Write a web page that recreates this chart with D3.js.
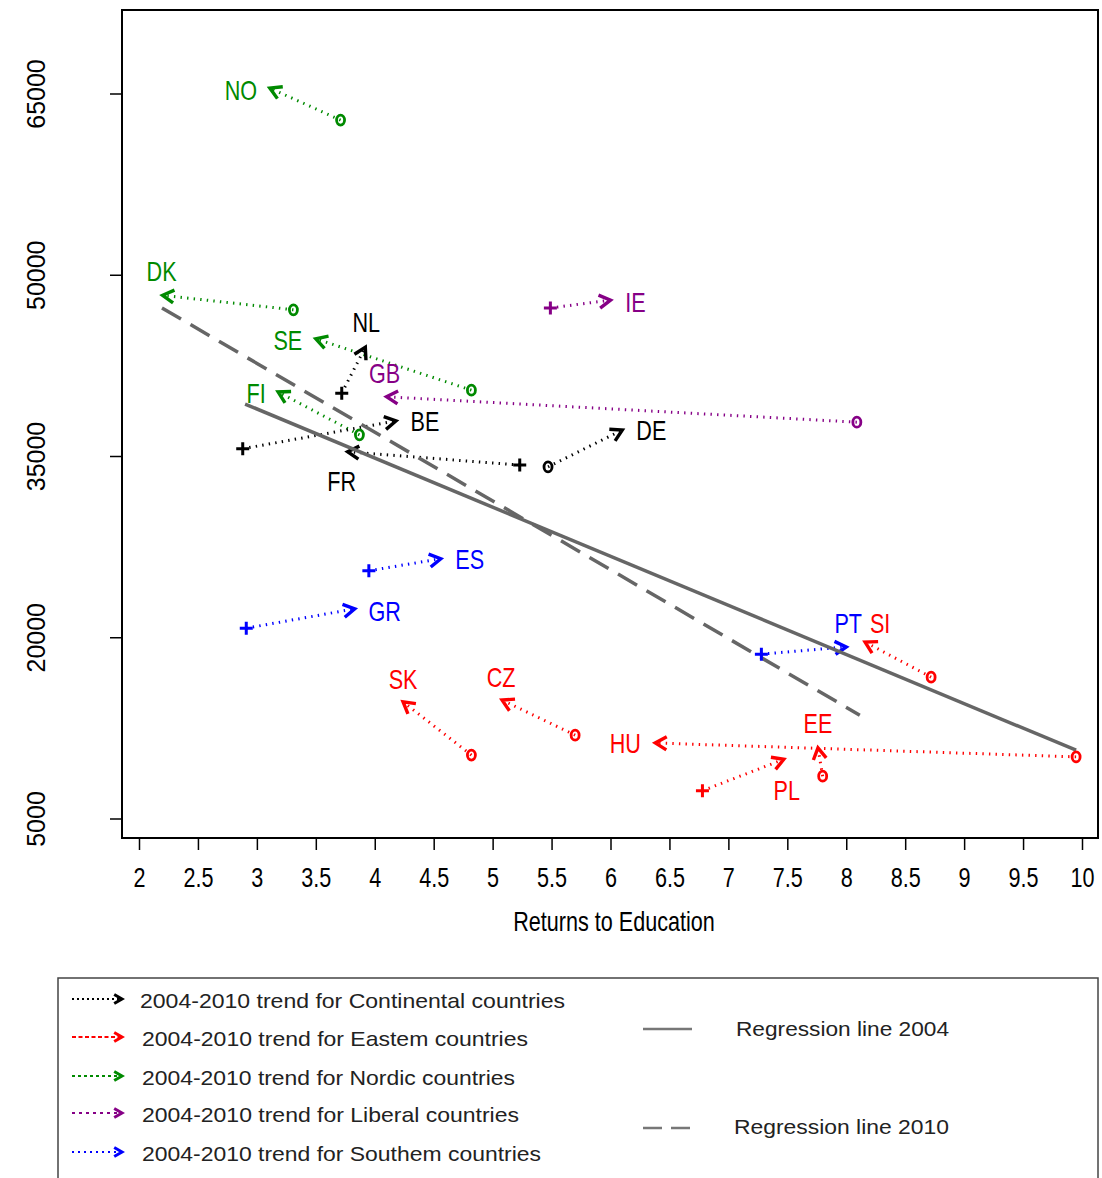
<!DOCTYPE html>
<html>

<head>
    <meta charset="utf-8" />
    <title>Returns to Education 2004-2010</title>
    <script type="text/javascript" src="https://cdn.jsdelivr.net/npm/d3@7/dist/d3.min.js"></script>
    <style>
        body { margin: 0; background: #fff; }
        svg text { font-family: "Liberation Sans", Arial, sans-serif; }
    </style>
</head>

<body>
    <script type="text/javascript">
        // country codes and the regime group each belongs to
        const countries = ["NO", "DK", "SE", "FI", "NL", "GB", "BE", "FR", "DE", "IE",
            "ES", "GR", "SK", "CZ", "PT", "SI", "HU", "EE", "PL"];
        const groups = ["Nordic", "Nordic", "Nordic", "Nordic", "Continental", "Liberal",
            "Continental", "Continental", "Continental", "Liberal", "Southern", "Southern",
            "Eastern", "Eastern", "Southern", "Eastern", "Eastern", "Eastern", "Eastern"];

        // returns to education (x) and y value, 2004 start -> 2010 end
        const returns2004 = [3.71, 3.31, 4.82, 3.87, 3.72, 8.09, 2.88, 5.23, 5.47, 5.49,
            3.95, 2.91, 4.82, 5.70, 7.28, 8.72, 9.95, 7.80, 6.78];
        const returns2010 = [3.11, 2.20, 3.50, 3.18, 3.92, 4.10, 4.18, 3.77, 6.10, 6.00,
            4.56, 3.83, 4.24, 5.08, 8.00, 8.16, 6.38, 7.76, 7.47];
        const value2004 = [62800, 47100, 40450, 36750, 40200, 37800, 35600, 34250, 34100, 47250,
            25500, 20750, 10250, 11900, 18600, 16700, 10100, 8500, 7300];
        const value2010 = [65450, 48300, 44700, 40300, 44000, 39900, 37900, 35350, 37150, 47900,
            26500, 22350, 14650, 14800, 19200, 19600, 11250, 10850, 9900];
        // symbol drawn at the 2004 point
        const startSymbol = ["o", "o", "o", "o", "+", "o", "+", "+", "o", "+",
            "+", "+", "o", "o", "+", "o", "o", "o", "+"];

        // regression line end points
        const reg2004X = [2.90, 9.95], reg2004Y = [39300, 10650];
        const reg2010X = [2.195, 8.115], reg2010Y = [47250, 13550];

        const xTicks = [2, 2.5, 3, 3.5, 4, 4.5, 5, 5.5, 6, 6.5, 7, 7.5, 8, 8.5, 9, 9.5, 10];
        const yTicks = [5000, 20000, 35000, 50000, 65000];

        const legendGroups = ["Continental", "Eastern", "Nordic", "Liberal", "Southern"];
        const legendLabels = legendGroups.map(g => `2004-2010 trend for ${g === "Eastern" ? "Eastem" : g === "Southern" ? "Southem" : g} countries`);
        const regLabels = ["Regression line 2004", "Regression line 2010"];

        const colors = {
            Continental: "#000000",
            Eastern: "#ff0000",
            Nordic: "#008a00",
            Liberal: "#860086",
            Southern: "#0000ff"
        };

        // label offset (px) from the arrow tip
        const labelOffset = {
            NO: [-29, 2], DK: [-1, -24], SE: [-28, 1], FI: [-22, 1], NL: [1, -25],
            GB: [-2, -24], BE: [29, 0], FR: [-6, 29], DE: [29, 0], IE: [25, 2],
            ES: [29, 1], GR: [30, 2], SK: [0, -23], CZ: [-1, -23], PT: [2, -24],
            SI: [15, -19], HU: [-30, 0], EE: [0, -25], PL: [3, 31]
        };

        const width = 1102, height = 1178;
        const frame = { left: 122, top: 10, right: 1098, bottom: 838 };

        const x = d3.scaleLinear().domain([2, 10]).range([139, 1082]);
        const y = d3.scaleLinear().domain([5000, 65000]).range([818.5, 93.5]);

        const svg = d3.select("body").append("svg")
            .attr("width", width)
            .attr("height", height);

        // chevron arrow head at (x1,y1) pointing along the segment
        const arrowHead = (g, x0, y0, x1, y1, len, color, sw) => {
            const a = Math.atan2(y1 - y0, x1 - x0);
            const spread = Math.PI / 6;
            const pts = [
                [x1 - len * Math.cos(a - spread), y1 - len * Math.sin(a - spread)],
                [x1, y1],
                [x1 - len * Math.cos(a + spread), y1 - len * Math.sin(a + spread)]
            ];
            g.append("path")
                .attr("d", d3.line()(pts))
                .attr("fill", "none")
                .attr("stroke", color)
                .attr("stroke-width", sw)
                .attr("stroke-linejoin", "miter");
        };

        // axes
        const xAxis = d3.axisBottom(x)
            .tickValues(xTicks)
            .tickSize(12)
            .tickFormat(d => d);

        const yAxis = d3.axisLeft(y)
            .tickValues(yTicks)
            .tickSize(12)
            .tickFormat(d3.format("d"));

        const xg = svg.append("g")
            .attr("transform", `translate(0, ${frame.bottom})`)
            .call(xAxis);
        xg.select(".domain").remove();
        xg.selectAll(".tick line").attr("stroke", "#000").attr("stroke-width", 1.5);
        xg.selectAll(".tick text")
            .attr("y", 40)
            .attr("dy", "0.35em")
            .attr("transform", "scale(0.8,1)")
            .attr("font-size", 27)
            .attr("fill", "#000");

        const yg = svg.append("g")
            .attr("transform", `translate(${frame.left}, 0)`)
            .call(yAxis);
        yg.select(".domain").remove();
        yg.selectAll(".tick line").attr("stroke", "#000").attr("stroke-width", 1.5);
        yg.selectAll(".tick text")
            .attr("x", null)
            .attr("dy", "0.35em")
            .attr("text-anchor", "middle")
            .attr("transform", "translate(-86,0) rotate(-90)")
            .attr("font-size", 25)
            .attr("fill", "#000");

        svg.append("text")
            .attr("transform", `translate(${(frame.left + frame.right) / 2 + 4}, 922) scale(0.8,1)`)
            .attr("text-anchor", "middle")
            .attr("dy", "0.35em")
            .attr("font-size", 27)
            .text("Returns to Education");

        // plot frame
        svg.append("rect")
            .attr("x", frame.left)
            .attr("y", frame.top)
            .attr("width", frame.right - frame.left)
            .attr("height", frame.bottom - frame.top)
            .attr("fill", "none")
            .attr("stroke", "#000")
            .attr("stroke-width", 2);

        const rows = countries.map((c, i) => ({
            code: c,
            group: groups[i],
            x0: x(returns2004[i]), y0: y(value2004[i]),
            x1: x(returns2010[i]), y1: y(value2010[i]),
            sym: startSymbol[i]
        }));

        const arrowsG = svg.append("g").attr("class", "arrows");

        rows.forEach(d => {
            const col = colors[d.group];
            arrowsG.append("line")
                .attr("x1", d.x0).attr("y1", d.y0)
                .attr("x2", d.x1).attr("y2", d.y1)
                .attr("stroke", col)
                .attr("stroke-width", 3)
                .attr("stroke-dasharray", "1.4,5.2");
            arrowHead(arrowsG, d.x0, d.y0, d.x1, d.y1, 13, col, 3.4);
        });

        // regression lines
        const regG = svg.append("g").attr("class", "regression");
        regG.append("line")
            .attr("x1", x(reg2004X[0])).attr("y1", y(reg2004Y[0]))
            .attr("x2", x(reg2004X[1])).attr("y2", y(reg2004Y[1]))
            .attr("stroke", "#666")
            .attr("stroke-width", 3.5);
        regG.append("line")
            .attr("x1", x(reg2010X[0])).attr("y1", y(reg2010Y[0]))
            .attr("x2", x(reg2010X[1])).attr("y2", y(reg2010Y[1]))
            .attr("stroke", "#666")
            .attr("stroke-width", 3.5)
            .attr("stroke-dasharray", "22,11");

        // start symbols
        const symG = svg.append("g").attr("class", "symbols");
        rows.forEach(d => {
            const col = colors[d.group];
            if (d.sym === "o") {
                symG.append("ellipse")
                    .attr("cx", d.x0).attr("cy", d.y0)
                    .attr("rx", 4).attr("ry", 5)
                    .attr("fill", "none")
                    .attr("stroke", col)
                    .attr("stroke-width", 2.8);
            } else {
                symG.append("path")
                    .attr("d", `M${d.x0 - 6.5},${d.y0}H${d.x0 + 6.5}M${d.x0},${d.y0 - 6.5}V${d.y0 + 6.5}`)
                    .attr("stroke", col)
                    .attr("stroke-width", 3);
            }
        });

        // country labels
        const labG = svg.append("g").attr("class", "labels");
        rows.forEach(d => {
            const off = labelOffset[d.code];
            labG.append("text")
                .attr("transform", `translate(${d.x1 + off[0]}, ${d.y1 + off[1]}) scale(0.8,1)`)
                .attr("text-anchor", "middle")
                .attr("dy", "0.36em")
                .attr("font-size", 27)
                .attr("fill", colors[d.group])
                .text(d.code);
        });

        // legend
        const legend = svg.append("g").attr("class", "legend");
        legend.append("rect")
            .attr("x", 58).attr("y", 978)
            .attr("width", 1040).attr("height", 230)
            .attr("fill", "none")
            .attr("stroke", "#444")
            .attr("stroke-width", 1.5);

        const legendY = [999, 1037, 1076, 1113, 1152];
        const legendTextLen = [425, 386, 373, 377, 399];
        const legendDash = ["2,3", "4,2.5", "3,3", "3,4", "2,4"];
        legendGroups.forEach((g, i) => {
            const col = colors[g];
            const yy = legendY[i];
            legend.append("line")
                .attr("x1", 72).attr("y1", yy)
                .attr("x2", 121).attr("y2", yy)
                .attr("stroke", col)
                .attr("stroke-width", 2.2)
                .attr("stroke-dasharray", legendDash[i]);
            arrowHead(legend, 72, yy, 122, yy, 9, col, 3);
            legend.append("text")
                .attr("x", i === 0 ? 140 : 142)
                .attr("y", yy + 2)
                .attr("dy", "0.35em")
                .attr("font-size", 21)
                .attr("fill", "#222")
                .attr("textLength", legendTextLen[i])
                .attr("lengthAdjust", "spacingAndGlyphs")
                .text(legendLabels[i]);
        });

        legend.append("line")
            .attr("x1", 643).attr("y1", 1029)
            .attr("x2", 692).attr("y2", 1029)
            .attr("stroke", "#777")
            .attr("stroke-width", 2.5);
        legend.append("line")
            .attr("x1", 643).attr("y1", 1128)
            .attr("x2", 690).attr("y2", 1128)
            .attr("stroke", "#777")
            .attr("stroke-width", 2.5)
            .attr("stroke-dasharray", "19,9");

        regLabels.forEach((t, i) => {
            legend.append("text")
                .attr("x", i === 0 ? 736 : 734)
                .attr("y", i === 0 ? 1029 : 1127)
                .attr("dy", "0.35em")
                .attr("font-size", 21)
                .attr("fill", "#222")
                .attr("textLength", i === 0 ? 213 : 215)
                .attr("lengthAdjust", "spacingAndGlyphs")
                .text(t);
        });
    </script>
</body>

</html>
